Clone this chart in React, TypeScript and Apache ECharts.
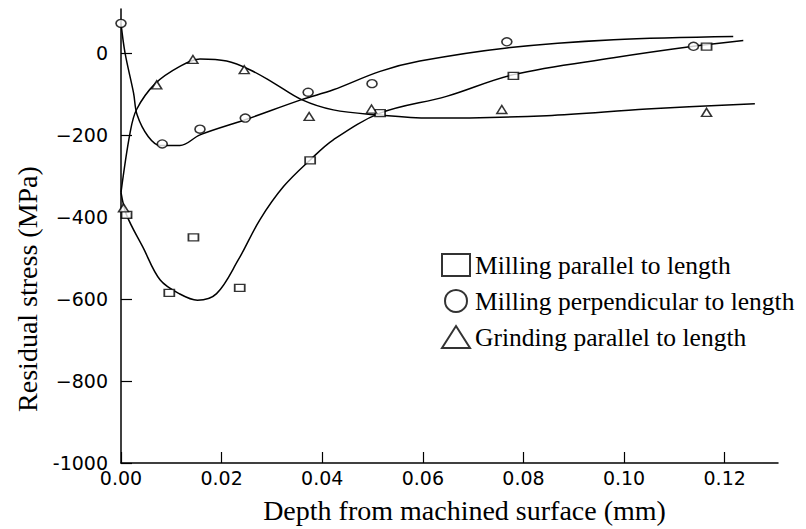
import React, { useEffect, useRef } from "react";
import * as echarts from "echarts";

// Tick values
const xTicks = [0, 0.02, 0.04, 0.06, 0.08, 0.1, 0.12];
const yTicks = [-1000, -800, -600, -400, -200, 0];

// Series names
const nameMillPar = "Milling parallel to length";
const nameMillPerp = "Milling perpendicular to length";
const nameGrind = "Grinding parallel to length";

// Measured points
const millParPoints = [
  [0.0011, -395], [0.0096, -585], [0.0144, -450], [0.0236, -573],
  [0.0376, -262], [0.0515, -147], [0.078, -56], [0.1164, 15],
];
const millPerpPoints = [
  [0, 72], [0.0082, -222], [0.0157, -186], [0.0247, -159],
  [0.0372, -96], [0.0499, -75], [0.0767, 27], [0.1138, 16],
];
const grindPoints = [
  [0.0005, -378], [0.0071, -78], [0.0143, -16], [0.0245, -41],
  [0.0374, -155], [0.0498, -137], [0.0757, -138], [0.1164, -145],
];

// Fitted curves
const millParCurve = [
  [0, -340], [0.0011, -395], [0.0044, -475], [0.0078, -554], [0.0117, -588],
  [0.0152, -603], [0.019, -587], [0.0233, -505], [0.0276, -407], [0.0323, -326],
  [0.0376, -261], [0.0422, -212], [0.0515, -147], [0.0647, -106], [0.078, -53],
  [0.0979, -12], [0.1138, 16], [0.1237, 30],
];
const millPerpCurve = [
  [0, 72], [0.0008, 0], [0.0025, -98], [0.0032, -151], [0.0054, -204],
  [0.0078, -226], [0.0117, -226], [0.0157, -200], [0.0247, -163], [0.0359, -114],
  [0.0422, -90], [0.0515, -45], [0.0594, -20], [0.0767, 12], [0.0979, 32],
  [0.1217, 40],
];
const grindCurve = [
  [0, -340], [0.0018, -195], [0.0031, -138], [0.0068, -75], [0.0117, -33],
  [0.0157, -15], [0.021, -20], [0.0256, -41], [0.0303, -73], [0.0359, -114],
  [0.0422, -139], [0.0508, -151], [0.0614, -159], [0.0846, -153], [0.1045, -137],
  [0.126, -124],
];

const tickFont = "DejaVu Sans";
const serif = "Liberation Serif";

export default function App() {
  const ref = useRef<HTMLDivElement>(null);
  useEffect(() => {
    if (!ref.current) return;
    const chart = echarts.init(ref.current, null, { renderer: "svg" });
    const markerStyle = { color: "#fff", borderColor: "#000", borderWidth: 1.5 };
    const lineStyle = { color: "#000", width: 1.5 };
    const curve = (data: number[][]) => ({
      type: "line",
      data,
      smooth: 0.35,
      symbol: "none",
      showSymbol: false,
      lineStyle,
      silent: true,
      z: 2,
    });
    chart.setOption({
      animation: false,
      backgroundColor: "#fff",
      grid: { left: 121, right: 28, top: 9, bottom: 66 },
      xAxis: {
        type: "value",
        min: 0,
        max: 0.1306,
        axisLine: { show: true, onZero: false, lineStyle: { color: "#000", width: 1.5 } },
        axisTick: { show: true, inside: true, length: 11, customValues: xTicks, lineStyle: { color: "#000", width: 1.2 } },
        axisLabel: {
          customValues: xTicks,
          formatter: (v: number) => v.toFixed(2),
          fontFamily: tickFont,
          fontSize: 19,
          color: "#000",
          margin: 5,
        },
        splitLine: { show: false },
        name: "Depth from machined surface (mm)",
        nameLocation: "middle",
        nameGap: 33,
        nameTextStyle: { fontFamily: serif, fontSize: 28, color: "#000", padding: [0, 0, 0, 30] },
      },
      yAxis: {
        type: "value",
        min: -1000,
        max: 107,
        axisLine: { show: true, onZero: false, lineStyle: { color: "#000", width: 1.5 } },
        axisTick: { show: true, inside: true, length: 11, customValues: yTicks, lineStyle: { color: "#000", width: 1.2 } },
        axisLabel: {
          customValues: yTicks,
          formatter: (v: number) => (v === -1000 ? "-1000" : String(v).replace("-", "\u2212")),
          fontFamily: tickFont,
          fontSize: 19,
          color: "#000",
          margin: 13,
        },
        splitLine: { show: false },
      },
      legend: {
        orient: "vertical",
        left: 436,
        top: 247,
        itemWidth: 28,
        itemHeight: 22,
        itemGap: 10,
        selectedMode: false,
        textStyle: { fontFamily: serif, fontSize: 25.5, color: "#000" },
        data: [nameMillPar, nameMillPerp, nameGrind],
      },
      graphic: [
        {
          type: "text",
          x: 27,
          y: 289,
          rotation: Math.PI / 2,
          style: {
            text: "Residual stress (MPa)",
            font: '28px "Liberation Serif"',
            fill: "#000",
            align: "center",
            verticalAlign: "middle",
          },
        },
      ],
      series: [
        curve(millParCurve),
        curve(millPerpCurve),
        curve(grindCurve),
        { type: "scatter", name: nameMillPar, data: millParPoints, symbol: "rect", symbolSize: [10, 7], itemStyle: markerStyle, z: 5 },
        { type: "scatter", name: nameMillPerp, data: millPerpPoints, symbol: "circle", symbolSize: [10, 8], itemStyle: markerStyle, z: 5 },
        { type: "scatter", name: nameGrind, data: grindPoints, symbol: "triangle", symbolSize: [10, 8], itemStyle: markerStyle, z: 5 },
      ],
    });
    return () => chart.dispose();
  }, []);
  return <div ref={ref} style={{ position: "absolute", left: 0, top: 0, width: 806, height: 529 }} />;
}
